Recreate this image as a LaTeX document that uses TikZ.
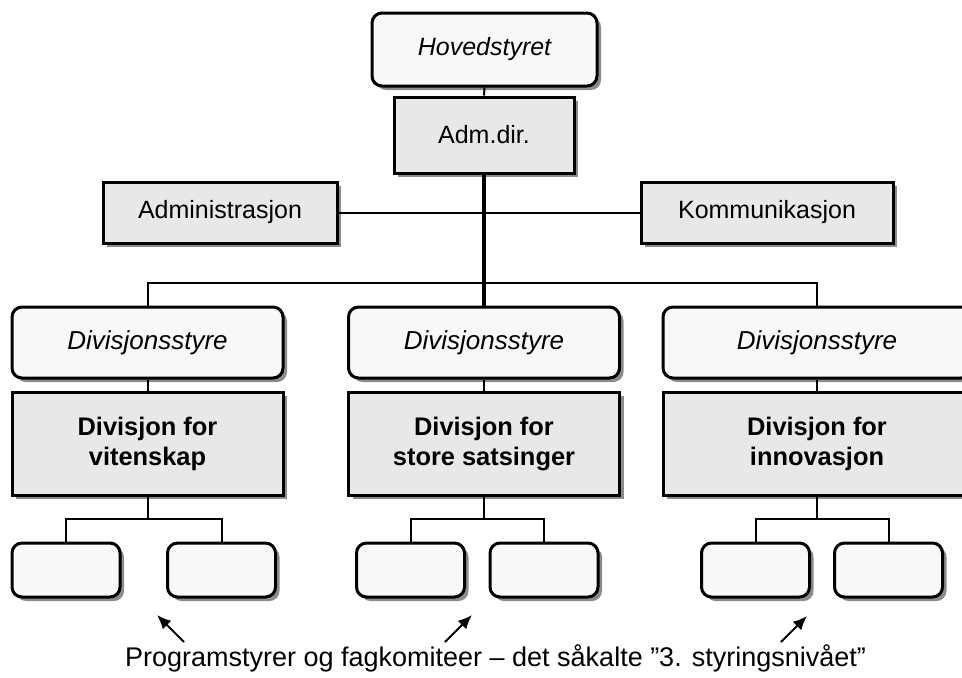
\documentclass[tikz,border=0pt]{standalone}
\usepackage{fontspec}
\setmainfont{Liberation Sans}
\usetikzlibrary{shadows,arrows.meta}
\definecolor{lightbox}{HTML}{F8F8F8}
\definecolor{graybox}{HTML}{E8E8E8}
\definecolor{shadowgray}{HTML}{8C8C8C}
\newcommand\pxu{0.5pt}
\tikzset{
  boxbase/.style={draw=black, line width=1.5pt, inner sep=0pt, align=center,
    font=\fontsize{12.5}{15}\selectfont,
    drop shadow={shadow xshift=2pt, shadow yshift=-2pt, fill=shadowgray, opacity=1}},
  roundbox/.style={boxbase, fill=lightbox, rounded corners=5pt},
  sqbox/.style={boxbase, fill=graybox},
  wh/.style 2 args={minimum width={#1*\pxu}, minimum height={#2*\pxu}},
  conn/.style={line width=1pt},
  trunk/.style={line width=1.6pt},
  ptr/.style={line width=1pt, -{Latex[length=7pt,width=6pt]}},
  styretext/.style={font=\fontsize{13}{15}\selectfont\itshape},
  divtext/.style={font=\fontsize{12.7}{15}\selectfont\bfseries},
  notetext/.style={font=\fontsize{13.5}{16}\selectfont}
}
\begin{document}
\begin{tikzpicture}[x=0.5pt,y=-0.5pt]
\useasboundingbox (0,0) rectangle (962,677);
\clip (0,0) rectangle (962,677);

% top level
\node[roundbox, wh={225}{73}, font=\fontsize{12.5}{15}\selectfont\itshape] (hs) at (484.5,49.5) {Hovedstyret};
\node[sqbox, wh={180}{76}] (adm) at (484,135) {Adm.dir.};
\node[sqbox, wh={234}{61}] (adms) at (220,212.5) {Administrasjon};
\node[sqbox, wh={252}{61}] (komm) at (767,212.5) {Kommunikasjon};

% division boards
\node[roundbox, wh={271}{71}, styretext] (s1) at (147.5,342.5) {Divisjonsstyre};
\node[roundbox, wh={271}{71}, styretext] (s2) at (484,342.5) {Divisjonsstyre};
\node[roundbox, wh={308}{71}, styretext] (s3) at (817,342.5) {Divisjonsstyre};

% divisions
\node[sqbox, wh={271}{103}, divtext] (d1) at (147.5,443.5) {Divisjon for\\vitenskap};
\node[sqbox, wh={271}{103}, divtext] (d2) at (484,443.5) {Divisjon for\\store satsinger};
\node[sqbox, wh={308}{103}, divtext] (d3) at (817,443.5) {Divisjon for\\innovasjon};

% small boxes
\node[roundbox, wh={108}{54}] (p1a) at (66,570) {};
\node[roundbox, wh={108}{54}] (p1b) at (221.5,570) {};
\node[roundbox, wh={108}{54}] (p2a) at (410.5,570) {};
\node[roundbox, wh={108}{54}] (p2b) at (544,570) {};
\node[roundbox, wh={108}{54}] (p3a) at (755.5,570) {};
\node[roundbox, wh={108}{54}] (p3b) at (888.5,570) {};

% connectors
\coordinate (busmid) at (484,283);
\coordinate (j1) at (147.5,519);
\coordinate (j2) at (484,519);
\coordinate (j3) at (817,519);

\draw[conn] (hs.south) -- (adm.north);
\draw[trunk] (adm.south) -- (s2.north);
\draw[conn] (adms.east) -- (komm.west);
\draw[conn] (s1.north) |- (busmid) -| (s3.north);

\draw[conn] (s1.south) -- (d1.north);
\draw[conn] (s2.south) -- (d2.north);
\draw[conn] (s3.south) -- (d3.north);

\draw[conn] (d1.south) -- (j1);
\draw[conn] (d2.south) -- (j2);
\draw[conn] (d3.south) -- (j3);
\draw[conn] (p1a.north) |- (j1) -| (p1b.north);
\draw[conn] (p2a.north) |- (j2) -| (p2b.north);
\draw[conn] (p3a.north) |- (j3) -| (p3b.north);

% pointers
\coordinate (a1t) at (184,642); \coordinate (a1h) at (157,615);
\coordinate (a2t) at (445,642); \coordinate (a2h) at (472,615);
\coordinate (a3t) at (781,642); \coordinate (a3h) at (807,616);
\draw[ptr] (a1t) -- (a1h);
\draw[ptr] (a2t) -- (a2h);
\draw[ptr] (a3t) -- (a3h);

\node[notetext, anchor=base, inner sep=0pt] (note) at (495.5,666) {Programstyrer og fagkomiteer – det såkalte ”3. styringsnivået”};
\end{tikzpicture}
\end{document}
